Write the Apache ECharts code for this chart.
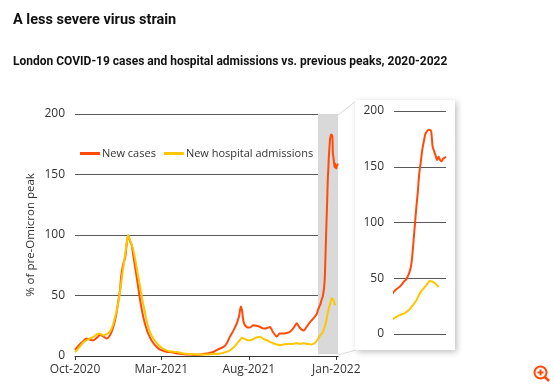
<!DOCTYPE html>
<html><head><meta charset="utf-8">
<script src="https://cdn.jsdelivr.net/npm/echarts@6/dist/echarts.min.js"></script>
<style>html,body{margin:0;padding:0;background:#fff}#c{width:554px;height:391px}</style>
</head><body><div id="c"></div>
<script>
// Days after 1 Oct 2020
const startDate = '2020-10-01';
const caseDays = [0,7,14,20,26,32,38,44,50,55,61,67,72,76,79,80,82,85,88,91,93,95,97,99,103,108,112,116,120,124,128,135,143,150,160,170,180,190,200,210,220,230,242,250,260,266,271,277,283,287,290,292,295,300,306,312,318,324,330,335,341,346,353,358,364,370,376,382,388,392,396,400,405,411,417,423,425,427,429,430,432,433,434,435,436,437,438,439,440,441,442,443,444,445,446,447,448,449,450,451,452,453,454,455,456,457,458,459,460];
const caseValues = [5,9,12,14.5,13.5,13,15,17.5,16,14.5,17,24,34,46,55,62,70,77,82,95,99,97,94,92,80,65,52,40.5,31,24,18.5,12,7.5,5,3.5,3,2,1.5,1.2,1,1.2,2,3.3,5.5,7.5,11,16,21,27,33,41,38,28,24,23.5,25.5,25,24,22.7,23,24,20,16,18.5,18.5,19,20,23,27,24,22,21,24,28,31,35,38,40.5,42.5,44,47.5,48.5,51,54,58,66,81,97,113,127,144,154,165,172,179,181.5,183,183,182,168,164,160,156,159,156,155,157,158,159];
const admDays = [0,7,15,20,26,33,41,46,50,55,61,66,70,75,79,83,86,88,91,93,96,99,102,106,110,114,118,122,125,130,137,145,154,165,178,190,207,220,236,254,262,271,277,283,288,292,297,302,306,312,318,324,330,336,341,347,353,359,365,371,380,388,394,400,406,412,417,421,425,428,432,435,437,440,442,444,446,448,449,451,453,455];
const admValues = [3.3,7,11.6,13,14.4,16,18.5,18,17,18,20,25,32,42,54,68,78,85,95,100,96,92,87.5,78,67,57,46,37,29.5,21,14.4,9.5,6,4,3.3,2,1.4,1.2,1.4,2,3,4.7,7,10,13,15,14,13,13,14,15.5,15.7,14,13,11.6,10.5,9.5,8.9,9.5,10,10,10.5,10,10.5,10,9.5,10,11.5,14,16.5,18.6,21.5,24.5,30,35.5,39.5,42.5,46,47.6,47,45,42];
const seriesNames = ['New cases', 'New hospital admissions'];
const xTickDates = ['2020-10-01', '2021-03-01', '2021-08-01', '2022-01-01'];
const xTickLabels = ['Oct-2020', 'Mar-2021', 'Aug-2021', 'Jan-2022'];
const yTicks = [0, 50, 100, 150, 200];
const mainRange = ['2020-10-01', '2022-01-04'];
const zoomRange = ['2021-11-30', '2022-01-04'];

const RED = '#ff4a0a', YELLOW = '#ffc600';
const FONT = 'Open Sans';
function dayOf(s){ const p = s.split('-').map(Number), b = startDate.split('-').map(Number);
  return Math.round((Date.UTC(p[0],p[1]-1,p[2]) - Date.UTC(b[0],b[1]-1,b[2]))/86400000); }
const casePts = caseDays.map((d,i)=>[d, caseValues[i]]);
const admPts = admDays.map((d,i)=>[d, admValues[i]]);
const tickDays = xTickDates.map(dayOf);
function tickLabel(v){ const i = tickDays.indexOf(Math.round(v)); return i>=0 ? xTickLabels[i] : ''; }

const chart = echarts.init(document.getElementById('c'), null, {renderer:'canvas'});
const yBase = {
  type:'value', min:yTicks[0], max:yTicks[yTicks.length-1], interval:50,
  axisLine:{show:false}, axisTick:{show:false},
  axisLabel:{color:'#333', fontSize:12, fontFamily:FONT, margin:10},
  splitLine:{lineStyle:{color:'#5a5a5a', width:1}}
};
const lineBase = {type:'line', showSymbol:false, smooth:0.25, clip:true};
chart.setOption({
  animation:false,
  textStyle:{fontFamily:FONT},
  title:[
    {text:'A less severe virus strain', left:8, top:8, textStyle:{fontSize:14.5, fontWeight:'bold', color:'#111', fontFamily:'Roboto'}},
    {text:'London COVID-19 cases and hospital admissions vs. previous peaks, 2020-2022', left:8, top:51, textStyle:{fontSize:12, fontWeight:'bold', color:'#111', fontFamily:'Roboto'}}
  ],
  legend:{
    data:seriesNames, left:75, top:143, icon:'rect', itemWidth:20, itemHeight:3, itemGap:8,
    textStyle:{fontSize:11, color:'#333', fontFamily:FONT, padding:[0,0,0,-3]}
  },
  grid:[
    {left:75, top:114, width:263, height:242},
    {left:394, top:111, width:52, height:223}
  ],
  xAxis:[
    {type:'value', gridIndex:0, min:dayOf(mainRange[0]), max:dayOf(mainRange[1]),
     axisLine:{lineStyle:{color:'#333', width:1}},
     axisTick:{customValues:tickDays, length:4, lineStyle:{color:'#333'}},
     axisLabel:{customValues:tickDays, formatter:tickLabel, color:'#333', fontSize:12, fontFamily:FONT, margin:8},
     splitLine:{show:false}},
    {type:'value', gridIndex:1, min:dayOf(zoomRange[0]), max:dayOf(zoomRange[1]), show:false, splitLine:{show:false}}
  ],
  yAxis:[
    Object.assign({gridIndex:0, name:'% of pre-Omicron peak', nameLocation:'middle', nameGap:38,
      nameTextStyle:{fontSize:11.5, color:'#333', fontFamily:FONT}}, yBase),
    Object.assign({gridIndex:1, z:5}, yBase)
  ],
  graphic:[
    {type:'line', z:1, shape:{x1:338, y1:115, x2:356, y2:101}, style:{stroke:'#d8d8d8', lineWidth:1}},
    {type:'line', z:1, shape:{x1:338, y1:355, x2:356, y2:350}, style:{stroke:'#d8d8d8', lineWidth:1}},
    {type:'rect', z:1, shape:{x:355, y:100, width:100, height:250},
     style:{fill:'#fff', shadowBlur:6, shadowColor:'rgba(0,0,0,0.25)', shadowOffsetX:2, shadowOffsetY:2}},
    {type:'group', z:10, children:[
      {type:'circle', shape:{cx:540.5, cy:372.5, r:6}, style:{fill:'none', stroke:RED, lineWidth:2}},
      {type:'line', shape:{x1:537.5, y1:372.5, x2:543.5, y2:372.5}, style:{stroke:RED, lineWidth:2}},
      {type:'line', shape:{x1:540.5, y1:369.5, x2:540.5, y2:375.5}, style:{stroke:RED, lineWidth:2}},
      {type:'line', shape:{x1:545, y1:377, x2:549, y2:381}, style:{stroke:RED, lineWidth:2.5}}
    ]}
  ],
  series:[
    {type:'line', xAxisIndex:0, yAxisIndex:0, data:[], z:1, silent:true,
     markArea:{silent:true, itemStyle:{color:'#d9d9d9', opacity:1},
       data:[[{xAxis:dayOf(zoomRange[0]), yAxis:1.5}, {xAxis:dayOf(zoomRange[1]), yAxis:200}]]}},
    Object.assign({name:seriesNames[0], xAxisIndex:0, yAxisIndex:0, data:casePts, z:3, color:RED, lineStyle:{color:RED, width:2}}, lineBase),
    Object.assign({name:seriesNames[1], xAxisIndex:0, yAxisIndex:0, data:admPts, z:4, color:YELLOW, lineStyle:{color:YELLOW, width:2}}, lineBase),
    Object.assign({name:seriesNames[0], xAxisIndex:1, yAxisIndex:1, data:casePts, z:6, color:RED, lineStyle:{color:RED, width:2}}, lineBase),
    Object.assign({name:seriesNames[1], xAxisIndex:1, yAxisIndex:1, data:admPts, z:6, color:YELLOW, lineStyle:{color:YELLOW, width:2}}, lineBase)
  ]
});
</script></body></html>
